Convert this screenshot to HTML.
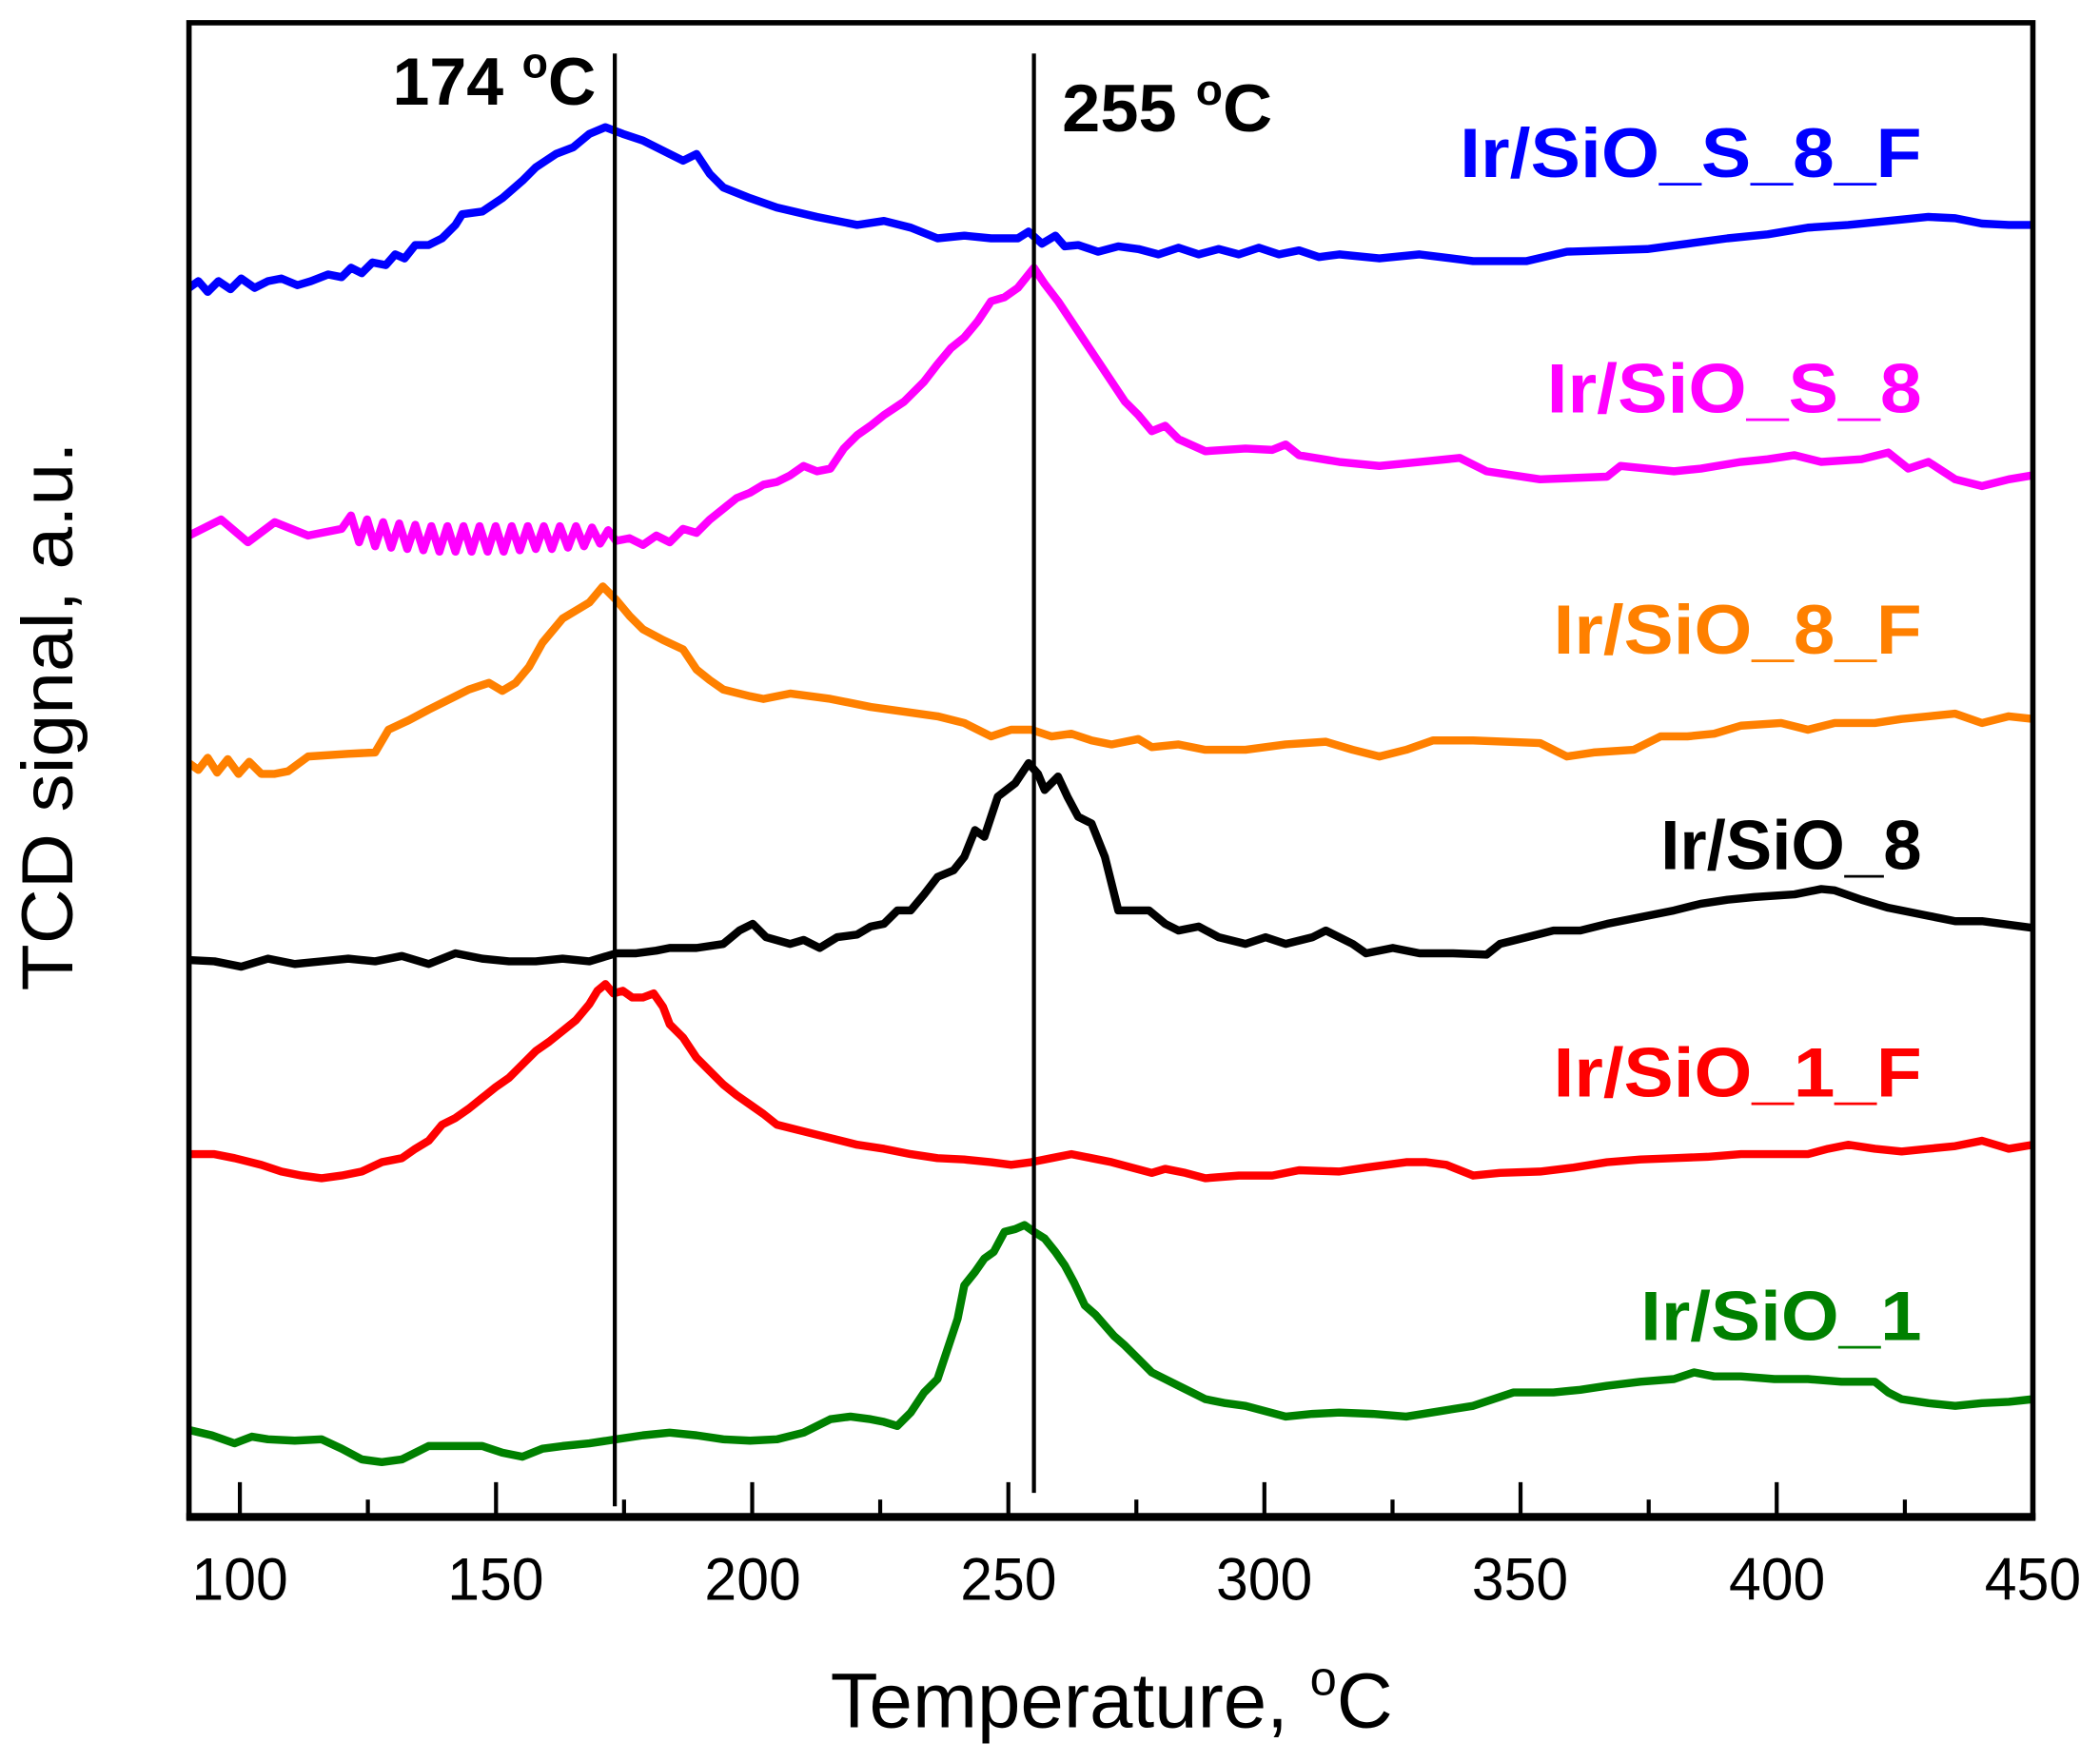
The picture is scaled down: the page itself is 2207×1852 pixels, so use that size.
<!DOCTYPE html>
<html><head><meta charset="utf-8"><style>body{margin:0;background:#fff}svg{display:block}</style></head>
<body>
<svg width="2207" height="1852" viewBox="0 0 1568 1316" xmlns="http://www.w3.org/2000/svg" font-family="Liberation Sans, Arial, sans-serif">
<rect width="1568" height="1316" fill="#fff"/>
<g fill="none" stroke-width="6" stroke-linejoin="round">
<polyline stroke="#0000ff" points="141,215 148,210 155,218 163,210 172,216 180,208 190,215 200,210 210,208 222,213 232,210 245,205 255,207 262,200 270,204 278,196 288,198 295,190 302,193 310,183 320,183 330,178 340,168 345,160 360,158 375,148 390,135 400,125 415,115 428,110 440,100 452,95 465,100 480,105 500,115 510,120 520,115 530,130 540,140 560,148 580,155 610,162 640,168 660,165 680,170 700,178 720,176 740,178 760,178 768,173 778,182 788,176 795,184 805,183 820,188 835,184 850,186 865,190 880,185 895,190 910,186 925,190 940,185 955,190 970,187 985,192 1000,190 1030,193 1060,190 1100,195 1140,195 1170,188 1200,187 1230,186 1260,182 1290,178 1320,175 1350,170 1380,168 1410,165 1440,162 1460,163 1480,167 1500,168 1518,168"/>
<polyline stroke="#ff00ff" points="141,400 165,388 185,405 205,390 230,400 255,395 262,385 268,405 274,388 280,408 286,390 292,409 298,391 304,410 310,392 316,411 322,393 328,412 334,393 340,412 346,393 352,412 358,393 364,412 370,393 376,412 382,393 388,411 394,393 400,410 406,393 412,410 418,393 424,409 430,393 436,408 442,394 448,406 454,396 460,404 470,402 480,407 490,400 500,405 510,395 520,398 530,388 540,380 550,372 560,368 570,362 580,360 590,355 600,348 610,352 620,350 630,335 640,325 650,318 660,310 675,300 690,285 700,272 710,260 720,252 730,240 740,225 750,222 760,215 772,200 780,212 790,225 800,240 810,255 820,270 830,285 840,300 850,310 860,322 870,318 880,328 900,337 930,335 950,336 960,332 970,340 1000,345 1030,348 1060,345 1090,342 1110,352 1150,358 1200,356 1210,348 1230,350 1250,352 1270,350 1300,345 1320,343 1340,340 1360,345 1390,343 1410,338 1425,350 1440,345 1460,358 1480,363 1500,358 1518,355"/>
<polyline stroke="#ff8000" points="141,570 148,575 155,566 162,577 170,567 178,578 186,569 195,578 205,578 215,576 230,565 260,563 280,562 290,545 305,538 320,530 340,520 350,515 365,510 375,516 385,510 395,498 405,480 420,462 440,450 450,438 460,448 470,460 480,470 495,478 510,485 520,500 530,508 540,515 560,520 570,522 590,518 620,522 650,528 700,535 720,540 740,550 755,545 770,545 785,550 800,548 815,553 830,556 850,552 860,558 880,556 900,560 930,560 960,556 990,554 1010,560 1030,565 1050,560 1070,553 1100,553 1150,555 1170,565 1190,562 1220,560 1240,550 1260,550 1280,548 1300,542 1330,540 1350,545 1370,540 1400,540 1420,537 1440,535 1460,533 1480,540 1500,535 1518,537"/>
<polyline stroke="#000000" points="141,717 160,718 180,722 200,716 220,720 240,718 260,716 280,718 300,714 320,720 340,712 360,716 380,718 400,718 420,716 440,718 460,712 475,712 490,710 500,708 520,708 540,705 552,695 562,690 572,700 590,705 600,702 612,708 625,700 640,698 650,692 660,690 670,680 680,680 690,668 700,655 712,650 720,640 728,620 735,625 745,595 758,585 768,570 775,578 780,590 790,580 797,595 805,610 815,615 825,640 835,680 858,680 870,690 880,695 895,692 910,700 930,705 945,700 960,705 980,700 990,695 1010,705 1020,712 1040,708 1060,712 1085,712 1110,713 1120,705 1140,700 1160,695 1180,695 1200,690 1220,686 1250,680 1270,675 1290,672 1310,670 1340,668 1360,664 1370,665 1390,672 1410,678 1440,684 1460,688 1480,688 1518,693"/>
<polyline stroke="#ff0000" points="141,862 160,862 175,865 195,870 210,875 225,878 240,880 255,878 270,875 285,868 300,865 310,858 320,852 330,840 340,835 350,828 360,820 370,812 380,805 390,795 400,785 410,778 420,770 430,762 440,750 446,740 452,735 458,742 465,740 472,745 480,745 488,742 495,752 500,765 510,775 520,790 530,800 540,810 550,818 560,825 570,832 580,840 600,845 620,850 640,855 660,858 680,862 700,865 720,866 740,868 755,870 770,868 785,865 800,862 815,865 830,868 845,872 860,876 870,873 885,876 900,880 925,878 950,878 970,874 1000,875 1020,872 1050,868 1065,868 1080,870 1100,878 1120,876 1150,875 1175,872 1200,868 1225,866 1250,865 1275,864 1300,862 1325,862 1350,862 1365,858 1380,855 1400,858 1420,860 1440,858 1460,856 1480,852 1500,858 1518,855"/>
<polyline stroke="#008000" points="141,1068 158,1072 175,1078 188,1073 200,1075 220,1076 240,1075 255,1082 270,1090 285,1092 300,1090 310,1085 320,1080 340,1080 360,1080 375,1085 390,1088 405,1082 420,1080 440,1078 460,1075 480,1072 500,1070 520,1072 540,1075 560,1076 580,1075 600,1070 620,1060 635,1058 650,1060 660,1062 670,1065 680,1055 690,1040 700,1030 705,1015 710,1000 715,985 720,960 728,950 735,940 742,935 750,920 758,918 765,915 772,920 780,925 788,935 795,945 802,958 810,975 818,982 825,990 832,998 840,1005 850,1015 860,1025 870,1030 880,1035 890,1040 900,1045 915,1048 930,1050 945,1054 960,1058 980,1056 1000,1055 1025,1056 1050,1058 1075,1054 1100,1050 1115,1045 1130,1040 1145,1040 1160,1040 1180,1038 1200,1035 1225,1032 1250,1030 1265,1025 1280,1028 1300,1028 1325,1030 1350,1030 1375,1032 1400,1032 1410,1040 1420,1045 1440,1048 1460,1050 1480,1048 1500,1047 1518,1045"/>
</g>
<g stroke="#000" stroke-width="3">
<line x1="459" y1="40" x2="459" y2="1125"/>
<line x1="772" y1="40" x2="772" y2="1115"/>
</g>
<rect x="141" y="17" width="1377" height="1116" fill="none" stroke="#000" stroke-width="4"/>
<line x1="139" y1="1133" x2="1520" y2="1133" stroke="#000" stroke-width="6"/>
<g stroke="#000" stroke-width="3">
<line x1="179" y1="1133" x2="179" y2="1107"/><line x1="274.6" y1="1133" x2="274.6" y2="1120"/>
<line x1="370.3" y1="1133" x2="370.3" y2="1107"/><line x1="465.9" y1="1133" x2="465.9" y2="1120"/>
<line x1="561.6" y1="1133" x2="561.6" y2="1107"/><line x1="657.2" y1="1133" x2="657.2" y2="1120"/>
<line x1="752.9" y1="1133" x2="752.9" y2="1107"/><line x1="848.5" y1="1133" x2="848.5" y2="1120"/>
<line x1="944.1" y1="1133" x2="944.1" y2="1107"/><line x1="1039.8" y1="1133" x2="1039.8" y2="1120"/>
<line x1="1135.4" y1="1133" x2="1135.4" y2="1107"/><line x1="1231.1" y1="1133" x2="1231.1" y2="1120"/>
<line x1="1326.7" y1="1133" x2="1326.7" y2="1107"/><line x1="1422.4" y1="1133" x2="1422.4" y2="1120"/>
<line x1="1518" y1="1133" x2="1518" y2="1107"/>
</g>
<g font-size="45" text-anchor="middle" fill="#000" lengthAdjust="spacingAndGlyphs">
<text x="179" y="1195" textLength="72" lengthAdjust="spacingAndGlyphs">100</text>
<text x="370" y="1195" textLength="72" lengthAdjust="spacingAndGlyphs">150</text>
<text x="562" y="1195" textLength="72" lengthAdjust="spacingAndGlyphs">200</text>
<text x="753" y="1195" textLength="72" lengthAdjust="spacingAndGlyphs">250</text>
<text x="944" y="1195" textLength="72" lengthAdjust="spacingAndGlyphs">300</text>
<text x="1135" y="1195" textLength="72" lengthAdjust="spacingAndGlyphs">350</text>
<text x="1327" y="1195" textLength="72" lengthAdjust="spacingAndGlyphs">400</text>
<text x="1518" y="1195" textLength="72" lengthAdjust="spacingAndGlyphs">450</text>
</g>
<text x="620" y="1290" font-size="58" textLength="420" lengthAdjust="spacingAndGlyphs">Temperature, <tspan font-size="36" dy="-24">o</tspan><tspan dy="24">C</tspan></text>
<text transform="translate(54,535) rotate(-90)" font-size="54" text-anchor="middle" textLength="410" lengthAdjust="spacingAndGlyphs">TCD signal, a.u.</text>
<g font-weight="bold" font-size="52" text-anchor="end">
<text x="1435" y="132" fill="#0000ff" textLength="345" lengthAdjust="spacingAndGlyphs">Ir/SiO_S_8_F</text>
<text x="1435" y="308" fill="#ff00ff" textLength="280" lengthAdjust="spacingAndGlyphs">Ir/SiO_S_8</text>
<text x="1435" y="488" fill="#ff8000" textLength="275" lengthAdjust="spacingAndGlyphs">Ir/SiO_8_F</text>
<text x="1435" y="649" fill="#000" textLength="195" lengthAdjust="spacingAndGlyphs">Ir/SiO_8</text>
<text x="1435" y="819" fill="#ff0000" textLength="275" lengthAdjust="spacingAndGlyphs">Ir/SiO_1_F</text>
<text x="1435" y="1001" fill="#008000" textLength="210" lengthAdjust="spacingAndGlyphs">Ir/SiO_1</text>
</g>
<g font-weight="bold" font-size="50" fill="#000">
<text x="293" y="78" textLength="152" lengthAdjust="spacingAndGlyphs">174 <tspan font-size="32" dy="-20">o</tspan><tspan dy="20">C</tspan></text>
<text x="793" y="98" textLength="157" lengthAdjust="spacingAndGlyphs">255 <tspan font-size="32" dy="-20">o</tspan><tspan dy="20">C</tspan></text>
</g>
</svg>
</body></html>
